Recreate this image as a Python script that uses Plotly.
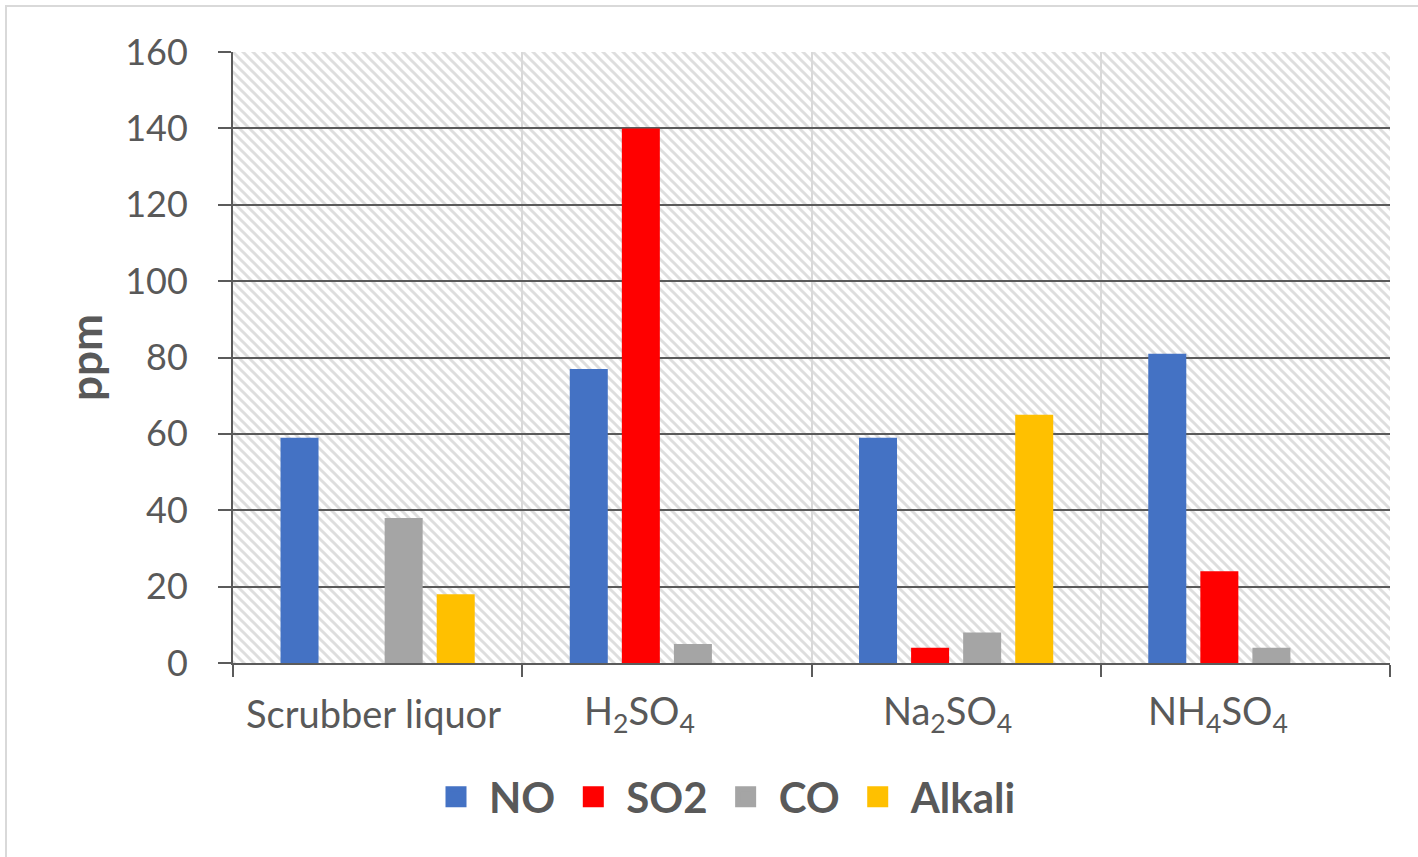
import base64
import plotly.graph_objects as go

# Gas concentrations measured at the outlet for each scrubbing solution
categories = ["Scrubber liquor", "H<sub>2</sub>SO<sub>4</sub>",
              "Na<sub>2</sub>SO<sub>4</sub>", "NH<sub>4</sub>SO<sub>4</sub>"]
series_names = ["NO", "SO2", "CO", "Alkali"]
no_ppm = [59, 77, 59, 81]
so2_ppm = [0, 140, 4, 24]
co_ppm = [38, 5, 8, 4]
alkali_ppm = [18, 0, 65, 0]
y_ticks = [0, 20, 40, 60, 80, 100, 120, 140, 160]

colors = ["#4472C4", "#FF0000", "#A5A5A5", "#FFC000"]
series_values = [no_ppm, so2_ppm, co_ppm, alkali_ppm]

# horizontal nudge (px) of each category caption
label_shift_px = [-4, -27, -9, -27]

FONT = "Lato"
TEXT = "#595959"
DARK = "#5B5B5B"
LIGHT = "#D9D9D9"

W, H = 1418, 857
ML, MR, MT, MB = 233, 28, 52, 194
PW, PH = W - ML - MR, H - MT - MB

# diagonal hatch used behind the plot area
hatch_svg = (
    f'<svg xmlns="http://www.w3.org/2000/svg" width="{PW}" height="{PH}" '
    f'viewBox="0 0 {PW} {PH}">'
    '<defs><pattern id="h" width="10" height="10" patternUnits="userSpaceOnUse">'
    '<path d="M-5,5 L5,15 M0,0 L10,10 M5,-5 L15,5" stroke="#DEDEDE" '
    'stroke-width="3"/></pattern></defs>'
    '<rect width="100%" height="100%" fill="#FFFFFF"/>'
    '<rect width="100%" height="100%" fill="url(#h)"/></svg>'
)
hatch_uri = "data:image/svg+xml;base64," + base64.b64encode(hatch_svg.encode()).decode()

fig = go.Figure()

for name, vals, col in zip(series_names, series_values, colors):
    fig.add_trace(go.Bar(
        x=categories, y=vals, name=name,
        marker=dict(color=col, line=dict(width=0)),
        showlegend=False,
    ))

# legend entries with larger swatches
for name, col in zip(series_names, colors):
    fig.add_trace(go.Scatter(
        x=[None], y=[None], mode="markers", name=name,
        marker=dict(symbol="square", size=16, color=col,
                    line=dict(color=col, width=5)),
        showlegend=True,
    ))

# category captions below the axis
annotations = [
    dict(x=cat, xref="x", y=(H - MB - 713) / PH, yref="paper",
         text=cat, showarrow=False, xanchor="center", yanchor="middle",
         xshift=dx, font=dict(family=FONT, size=38, color=TEXT))
    for cat, dx in zip(categories, label_shift_px)
]

fig.update_layout(
    width=W, height=H,
    margin=dict(l=ML, r=MR, t=MT, b=MB, pad=0),
    paper_bgcolor="white",
    plot_bgcolor="white",
    barmode="group",
    bargap=0.28,
    bargroupgap=0.27,
    font=dict(family=FONT, color=TEXT, size=36),
    showlegend=True,
    legend=dict(
        orientation="h",
        x=(423 - ML) / PW, xanchor="left",
        y=(H - MB - 797) / PH, yanchor="middle",
        itemwidth=56,
        font=dict(family=FONT, size=42, color=TEXT, weight="bold"),
        itemclick=False, itemdoubleclick=False,
        bgcolor="rgba(0,0,0,0)",
    ),
    annotations=annotations,
    images=[dict(
        source=hatch_uri, xref="paper", yref="paper",
        x=0, y=1, sizex=1, sizey=1, xanchor="left", yanchor="top",
        sizing="stretch", layer="below",
    )],
    shapes=[dict(
        type="rect", xref="paper", yref="paper",
        x0=(6 - ML) / PW, x1=1.2, y0=-0.5, y1=(H - MB - 6) / PH,
        line=dict(color=LIGHT, width=2), fillcolor="rgba(0,0,0,0)",
        layer="below",
    )],
)

fig.update_xaxes(
    type="category",
    tickson="boundaries",
    showgrid=True, gridcolor=LIGHT, gridwidth=2,
    showline=True, linecolor=DARK, linewidth=2,
    ticks="outside", ticklen=12, tickwidth=2, tickcolor=DARK,
    showticklabels=False,
    zeroline=False,
)

fig.update_yaxes(
    range=[0, 160],
    tickvals=y_ticks,
    showgrid=True, gridcolor=DARK, gridwidth=2,
    showline=True, linecolor=DARK, linewidth=2,
    ticks="outside", ticklen=13, tickwidth=2, tickcolor=DARK,
    tickfont=dict(family=FONT, size=36, color=TEXT),
    ticklabelstandoff=23,
    zeroline=False,
    title=dict(text="ppm", font=dict(family=FONT, size=44, color=TEXT, weight="bold"),
               standoff=9),
)

fig.write_html("out.html")
